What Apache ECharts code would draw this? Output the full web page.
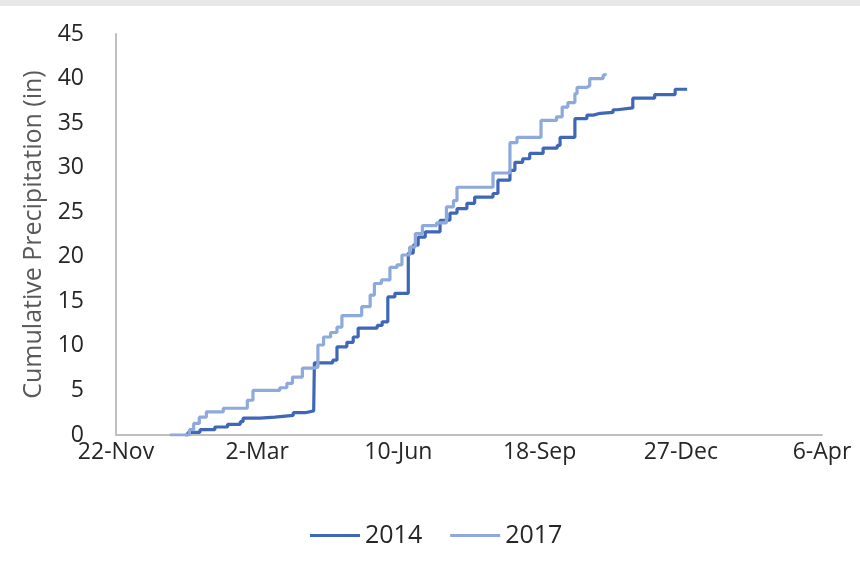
<!DOCTYPE html>
<html>
<head>
<meta charset="utf-8">
<script src="https://cdn.jsdelivr.net/npm/echarts@6/dist/echarts.min.js"></script>
<style>
html,body{margin:0;padding:0;background:#fff;}
#chart{width:860px;height:563px;}
</style>
</head>
<body>
<div id="chart"></div>
<script>
// x values are days since 22-Nov of the preceding year
const tickLabels = ['22-Nov', '2-Mar', '10-Jun', '18-Sep', '27-Dec', '6-Apr'];
const seriesNames = ['2014', '2017'];

const days2014 = [49, 51, 59.5, 70, 79, 88, 90, 102, 112.5, 125.5, 134, 140, 140.5, 153.5, 156.5, 163.5, 168, 171.5, 185, 188.5, 192.5, 197.5, 207, 210.5, 214, 219, 229.5, 236.5, 241.5, 248.5, 254, 267, 270.5, 279, 282.5, 288, 293, 302.5, 312.5, 314.5, 325, 333.5, 338, 343, 352, 355, 366, 381.5, 396, 404.5];
const precip2014 = [0, 0.3, 0.6, 0.9, 1.2, 1.5, 1.9, 2.0, 2.2, 2.5, 2.7, 2.8, 8.1, 8.4, 9.9, 10.4, 11.0, 12.0, 12.3, 12.7, 15.5, 15.9, 20.4, 21.3, 22.2, 22.8, 24.1, 24.9, 25.4, 26.0, 26.7, 27.1, 28.6, 29.7, 30.6, 31.0, 31.6, 32.2, 32.5, 33.4, 35.5, 35.9, 36.1, 36.2, 36.5, 36.7, 37.8, 38.2, 38.8, 38.8];

const days2017 = [38, 49, 52, 55, 59, 64, 76, 93, 97, 116, 121, 125, 132, 139.5, 143, 147, 152, 156.5, 160, 174, 180, 183, 188, 194, 199, 202.5, 208, 212, 217, 227, 234, 239, 241.5, 267, 279, 284, 301, 312, 316, 320, 325, 326.5, 333.5, 335.5, 345, 346.5];
const precip2017 = [0, 0, 0.6, 1.3, 2.0, 2.6, 3.0, 3.9, 5.0, 5.3, 5.8, 6.5, 7.5, 7.6, 10.1, 11.0, 11.5, 12.1, 13.4, 14.4, 15.7, 17.0, 17.4, 18.8, 19.1, 20.2, 21.1, 22.6, 23.5, 23.8, 25.6, 26.3, 27.8, 29.4, 32.8, 33.4, 35.3, 35.7, 36.8, 37.3, 38.3, 39.0, 39.2, 40.0, 40.4, 40.6];

const pairs = (xs, ys) => xs.map((x, i) => [x, ys[i]]);
const FONT = '"Open Sans", "Noto Sans", sans-serif';

const chart = echarts.init(document.getElementById('chart'), null, {renderer: 'canvas'});
chart.setOption({
  animation: false,
  backgroundColor: '#ffffff',
  graphic: [{
    type: 'rect', left: 0, top: 0, silent: true,
    shape: {width: 860, height: 6},
    style: {fill: '#e8e8e8'}
  }],
  grid: {left: 116, right: 38, top: 34, bottom: 128, containLabel: false},
  legend: {
    data: seriesNames,
    left: 305, top: 518,
    icon: 'rect',
    itemWidth: 50, itemHeight: 3, itemGap: 28,
    textStyle: {fontFamily: FONT, fontSize: 25, color: '#262626'}
  },
  xAxis: {
    type: 'value', min: 0, max: 500, interval: 100,
    axisLine: {show: true, lineStyle: {color: '#bfbfbf', width: 2}},
    axisTick: {show: false},
    splitLine: {show: false},
    axisLabel: {
      fontFamily: FONT, fontSize: 23, color: '#262626', margin: 6,
      formatter: v => tickLabels[Math.round(v / 100)] || ''
    }
  },
  yAxis: {
    type: 'value', min: 0, max: 45, interval: 5,
    name: 'Cumulative Precipitation (in)',
    nameLocation: 'middle', nameGap: 70, nameRotate: 90,
    nameTextStyle: {fontFamily: FONT, fontSize: 25, color: '#595959'},
    axisLine: {show: true, lineStyle: {color: '#bfbfbf', width: 2}},
    axisTick: {show: false},
    splitLine: {show: false},
    axisLabel: {fontFamily: FONT, fontSize: 23, color: '#262626', margin: 32}
  },
  series: [
    {
      name: seriesNames[0], type: 'line', step: 'end', symbol: 'none',
      data: pairs(days2014, precip2014),
      lineStyle: {color: '#3f67b8', width: 3.2},
      itemStyle: {color: '#3f67b8'}
    },
    {
      name: seriesNames[1], type: 'line', step: 'end', symbol: 'none',
      data: pairs(days2017, precip2017),
      lineStyle: {color: '#8ea9dc', width: 3.2},
      itemStyle: {color: '#8ea9dc'}
    }
  ]
});
</script>
</body>
</html>
